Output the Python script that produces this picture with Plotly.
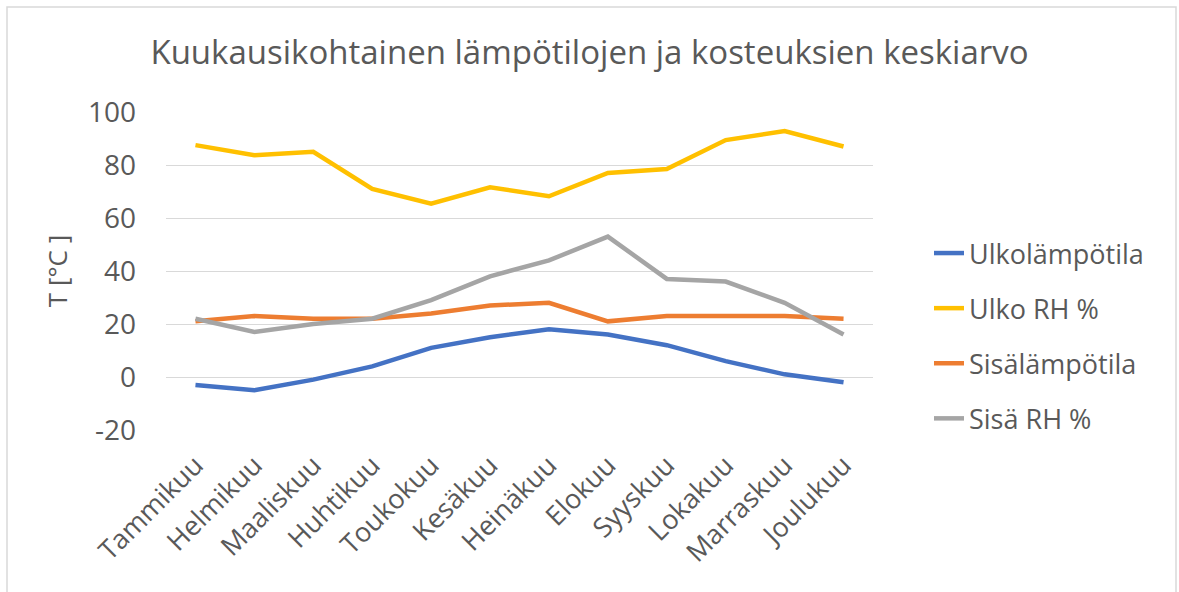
import plotly.graph_objects as go

months = ["Tammikuu", "Helmikuu", "Maaliskuu", "Huhtikuu", "Toukokuu", "Kesäkuu",
          "Heinäkuu", "Elokuu", "Syyskuu", "Lokakuu", "Marraskuu", "Joulukuu"]
ulkolampotila = [-3, -5, -1, 4, 11, 15, 18, 16, 12, 6, 1, -2]
ulko_rh = [87.5, 83.7, 85, 71, 65.4, 71.6, 68.2, 77, 78.5, 89.4, 92.8, 87]
sisalampotila = [21, 23, 22, 22, 24, 27, 28, 21, 23, 23, 23, 22]
sisa_rh = [22, 17, 20, 22, 29, 38, 44, 53, 37, 36, 28, 16]

series_names = ["Ulkolämpötila", "Ulko RH %", "Sisälämpötila", "Sisä RH %"]
series_values = [ulkolampotila, ulko_rh, sisalampotila, sisa_rh]
series_colors = ["#4472C4", "#FFC000", "#ED7D31", "#A5A5A5"]

title_text = "Kuukausikohtainen lämpötilojen ja kosteuksien keskiarvo"
y_title = "T [°C ]"
y_ticks = [-20, 0, 20, 40, 60, 80, 100]
y_ticktext = ["-20", "0", "20", "40", "60", "80", "100"]

FONT = "Open Sans, Liberation Sans, sans-serif"
TXT = "#595959"

fig = go.Figure()
for i, (name, vals, col) in enumerate(zip(series_names, series_values, series_colors)):
    fig.add_trace(go.Scatter(
        x=months, y=vals, name=name, mode="lines",
        line=dict(color=col, width=4.5),
        legendgroup=f"g{i}",
    ))

W, H = 1179, 592
L, R, T, B = 166, 306, 112, 162
pw = W - L - R
ph = H - T - B

def px_x(p):
    return (p - L) / pw

def px_y(p):
    return (H - B - p) / ph

fig.update_layout(
    width=W, height=H,
    margin=dict(l=L, r=R, t=T, b=B),
    paper_bgcolor="white", plot_bgcolor="white",
    font=dict(family=FONT, color=TXT, size=24),
    title=dict(text=title_text, x=0.5, xanchor="center", y=1 - 52 / H, yanchor="middle",
               font=dict(family=FONT, size=33, color=TXT)),
    showlegend=True,
    legend=dict(
        x=px_x(929), xanchor="left", y=px_y(336), yanchor="middle",
        font=dict(family=FONT, size=27, color=TXT),
        traceorder="grouped", tracegroupgap=17,
        bgcolor="rgba(0,0,0,0)",
    ),
    xaxis=dict(
        type="category", range=[-0.5, 11.5], showgrid=False, zeroline=False,
        showline=False, ticks="", tickangle=-45, ticklabelstandoff=13,
        tickfont=dict(family=FONT, size=27, color=TXT),
    ),
    yaxis=dict(
        range=[-20, 100], tickvals=y_ticks, ticktext=y_ticktext,
        showgrid=True, gridcolor="#D9D9D9",
        gridwidth=1.3, zeroline=False, showline=False, ticks="",
        ticklabelstandoff=29,
        tickfont=dict(family=FONT, size=28, color=TXT),
        title=dict(text=y_title, standoff=12, font=dict(family=FONT, size=26, color=TXT)),
    ),
    shapes=[dict(
        type="rect", xref="paper", yref="paper",
        x0=px_x(7), x1=px_x(1176), y0=px_y(600), y1=px_y(7),
        line=dict(color="#D9D9D9", width=1.5), fillcolor="rgba(0,0,0,0)", layer="below",
    )],
)

fig.write_html(
    "out.html",
    config={"displayModeBar": False},
    post_script="document.body.style.margin='0';document.body.style.overflow='hidden';",
)
